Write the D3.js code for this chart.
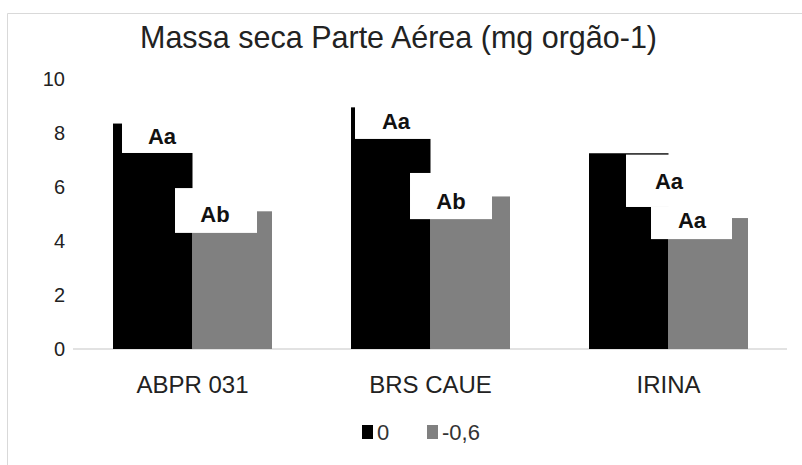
<!DOCTYPE html>
<html><head><meta charset="utf-8">
<script src="https://cdn.jsdelivr.net/npm/d3@7"></script>
<style>body{margin:0;background:#fff}svg{display:block}text{font-family:"Liberation Sans",Arial,sans-serif}</style>
</head><body><svg id="c" width="802" height="465"></svg>
<script>
const categories = ["ABPR 031", "BRS CAUE", "IRINA"];
const seriesNames = ["0", "-0,6"];
const values0 = [8.35, 8.95, 7.25];
const values06 = [5.1, 5.65, 4.85];
const letters0 = ["Aa", "Aa", "Aa"];
const letters06 = ["Ab", "Ab", "Aa"];
const yTicks = [0, 2, 4, 6, 8, 10];
const colors = ["#000000", "#808080"];

const svg = d3.select("#c");
const W = 802, H = 465;
svg.append("rect").attr("width", W).attr("height", H).attr("fill", "#fff");
// frame
svg.append("path").attr("d", `M7.5,${H} V13.5 H${W}`).attr("fill", "none").attr("stroke", "#d9d9d9").attr("stroke-width", 1);

const x = d3.scaleBand().domain(categories).range([73.5, 787.5]).paddingInner(0.332).paddingOuter(0.166);
const xs = d3.scaleBand().domain(seriesNames).range([0, x.bandwidth()]);
const y = d3.scaleLinear().domain([0, 10]).range([349, 79]);

svg.append("text").attr("x", 140).attr("y", 48)
  .attr("font-size", 32).attr("fill", "#222")
  .attr("textLength", 517).attr("lengthAdjust", "spacingAndGlyphs")
  .text("Massa seca Parte Aérea (mg orgão-1)");

// y tick labels
const yAxis = d3.axisLeft(y).tickValues(yTicks).tickSize(0).tickPadding(0).tickFormat(d3.format("d"));
const ga = svg.append("g").attr("transform", "translate(65,0)").call(yAxis);
ga.select(".domain").remove();
ga.selectAll("text").attr("font-size", 20).attr("fill", "#222").attr("font-family", "Liberation Sans, Arial, sans-serif");

// baseline
svg.append("line").attr("x1", 73).attr("x2", 787).attr("y1", y(0)).attr("y2", y(0)).attr("stroke", "#d9d9d9").attr("stroke-width", 1.5);

const data = categories.map((c, i) => ({c, v: [values0[i], values06[i]]}));
const groups = svg.append("g").selectAll("g").data(data).join("g").attr("transform", d => `translate(${x(d.c)},0)`);
groups.selectAll("rect").data(d => d.v.map((v, j) => ({v, s: seriesNames[j], j})))
  .join("rect").attr("x", d => xs(d.s)).attr("width", xs.bandwidth())
  .attr("y", d => y(d.v)).attr("height", d => y(0) - y(d.v)).attr("fill", d => colors[d.j]);

// x axis labels
const xAxis = d3.axisBottom(x).tickSize(0).tickPadding(0);
const gx = svg.append("g").attr("transform", "translate(0,376)").call(xAxis);
gx.select(".domain").remove();
gx.selectAll("text").attr("font-size", 24).attr("fill", "#222").attr("font-family", "Liberation Sans, Arial, sans-serif").attr("dy", "0.71em");

// letter annotation boxes (white text boxes overlapping bars), y in data units, x as pixel offset from group start
const boxes = [
  {i: 0, x0: 9, x1: 85, v0: 9.6, v1: 7.26, t: letters0[0], tx: 49, tv: 7.89},
  {i: 0, x0: 62, x1: 144, v0: 5.96, v1: 4.3, t: letters06[0], tx: 102, tv: 5.0},
  {i: 1, x0: 4, x1: 85, v0: 9.9, v1: 7.78, t: letters0[1], tx: 45, tv: 8.44},
  {i: 1, x0: 59, x1: 141, v0: 6.52, v1: 4.81, t: letters06[1], tx: 100, tv: 5.48},
  {i: 2, x0: 37, x1: 110, v0: 7.2, v1: 5.26, t: letters0[2], tx: 80, tv: 6.22},
  {i: 2, x0: 62, x1: 143, v0: 5.26, v1: 4.07, t: letters06[2], tx: 103, tv: 4.78}
];
const ann = svg.append("g");
boxes.forEach(b => {
  const gx0 = x(categories[b.i]);
  ann.append("rect").attr("x", gx0 + b.x0).attr("width", b.x1 - b.x0)
    .attr("y", y(b.v0)).attr("height", y(b.v1) - y(b.v0)).attr("fill", "#fff");
});
boxes.forEach(b => {
  const gx0 = x(categories[b.i]);
  ann.append("text").attr("x", gx0 + b.tx).attr("y", y(b.tv)).attr("dy", "0.36em")
    .attr("text-anchor", "middle").attr("font-size", 22).attr("font-weight", "bold").attr("fill", "#111").text(b.t);
});

// legend
const leg = svg.append("g").attr("transform", "translate(362,425)");
const items = leg.selectAll("g").data(seriesNames).join("g").attr("transform", (d, i) => `translate(${i * 65},0)`);
items.append("rect").attr("width", 11).attr("height", 14).attr("fill", (d, i) => colors[i]);
items.append("text").attr("x", 15).attr("y", 7).attr("dy", "0.36em").attr("font-size", 22).attr("fill", "#333").text(d => d);
</script></body></html>
